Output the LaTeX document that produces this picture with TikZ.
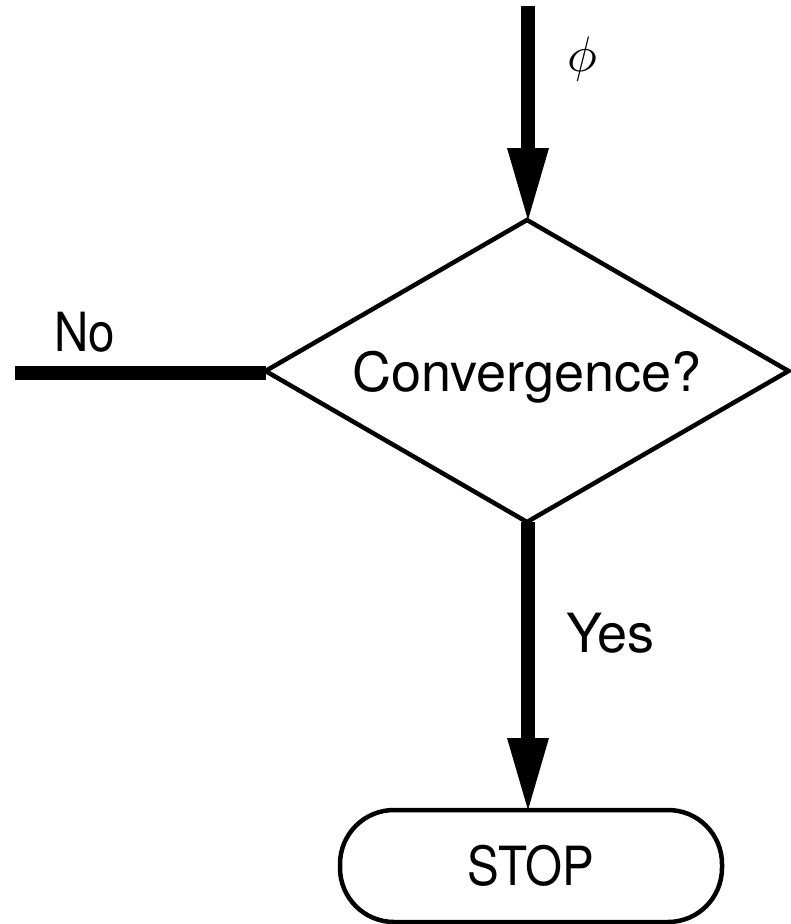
\documentclass[tikz,border=0pt]{standalone}
\usepackage{fontspec}
\setmainfont{TeX Gyre Heros}
\newfontfamily\narrowfont[FakeStretch=0.88]{TeX Gyre Heros}
\usetikzlibrary{arrows.meta,shapes.geometric}
\begin{document}
\begin{tikzpicture}[x=1pt,y=-1pt,
  flow/.style={line width=14pt, -{Triangle[length=72pt,width=42pt,line width=0pt]}},
  plainflow/.style={line width=14pt},
  lbl/.style={font=\fontsize{54}{60}\selectfont, inner sep=0pt, outer sep=0pt},
  decision/.style={diamond, draw, line width=4.5pt, minimum width=523pt, minimum height=302pt,
    aspect=1.74, inner sep=0pt, outer sep=0pt, font=\fontsize{54}{60}\selectfont,
    text height=40pt, text depth=0pt},
  terminal/.style={rectangle, draw, line width=4.5pt, rounded corners=54pt,
    minimum width=382pt, minimum height=112pt, inner sep=0pt, outer sep=0pt,
    font=\narrowfont\fontsize{54}{60}\selectfont, text height=38pt, text depth=0pt}]
\useasboundingbox (0,0) rectangle (791,924);
\fill[white] (0,0) rectangle (791,924);
\coordinate (in) at (528,6);
\coordinate (nostart) at (15,373);
\node[decision] (dec) at (527,371) {Convergence?};
\node[terminal] (stop) at (531,866) {STOP};
\draw[flow] (in) -- (in |- dec.north);
\draw[plainflow] (nostart) -- (nostart -| dec.west);
\draw[flow] (in |- dec.south) -- (in |- stop.north);
\node[inner sep=0pt] (phi) at (582,59) {\scalebox{5}{$\phi$}};
\node[lbl, font=\narrowfont\fontsize{54}{60}\selectfont, anchor=base west] (no) at (54,351) {No};
\node[lbl, anchor=base west] (yes) at (566,652) {Yes};
\end{tikzpicture}
\end{document}
